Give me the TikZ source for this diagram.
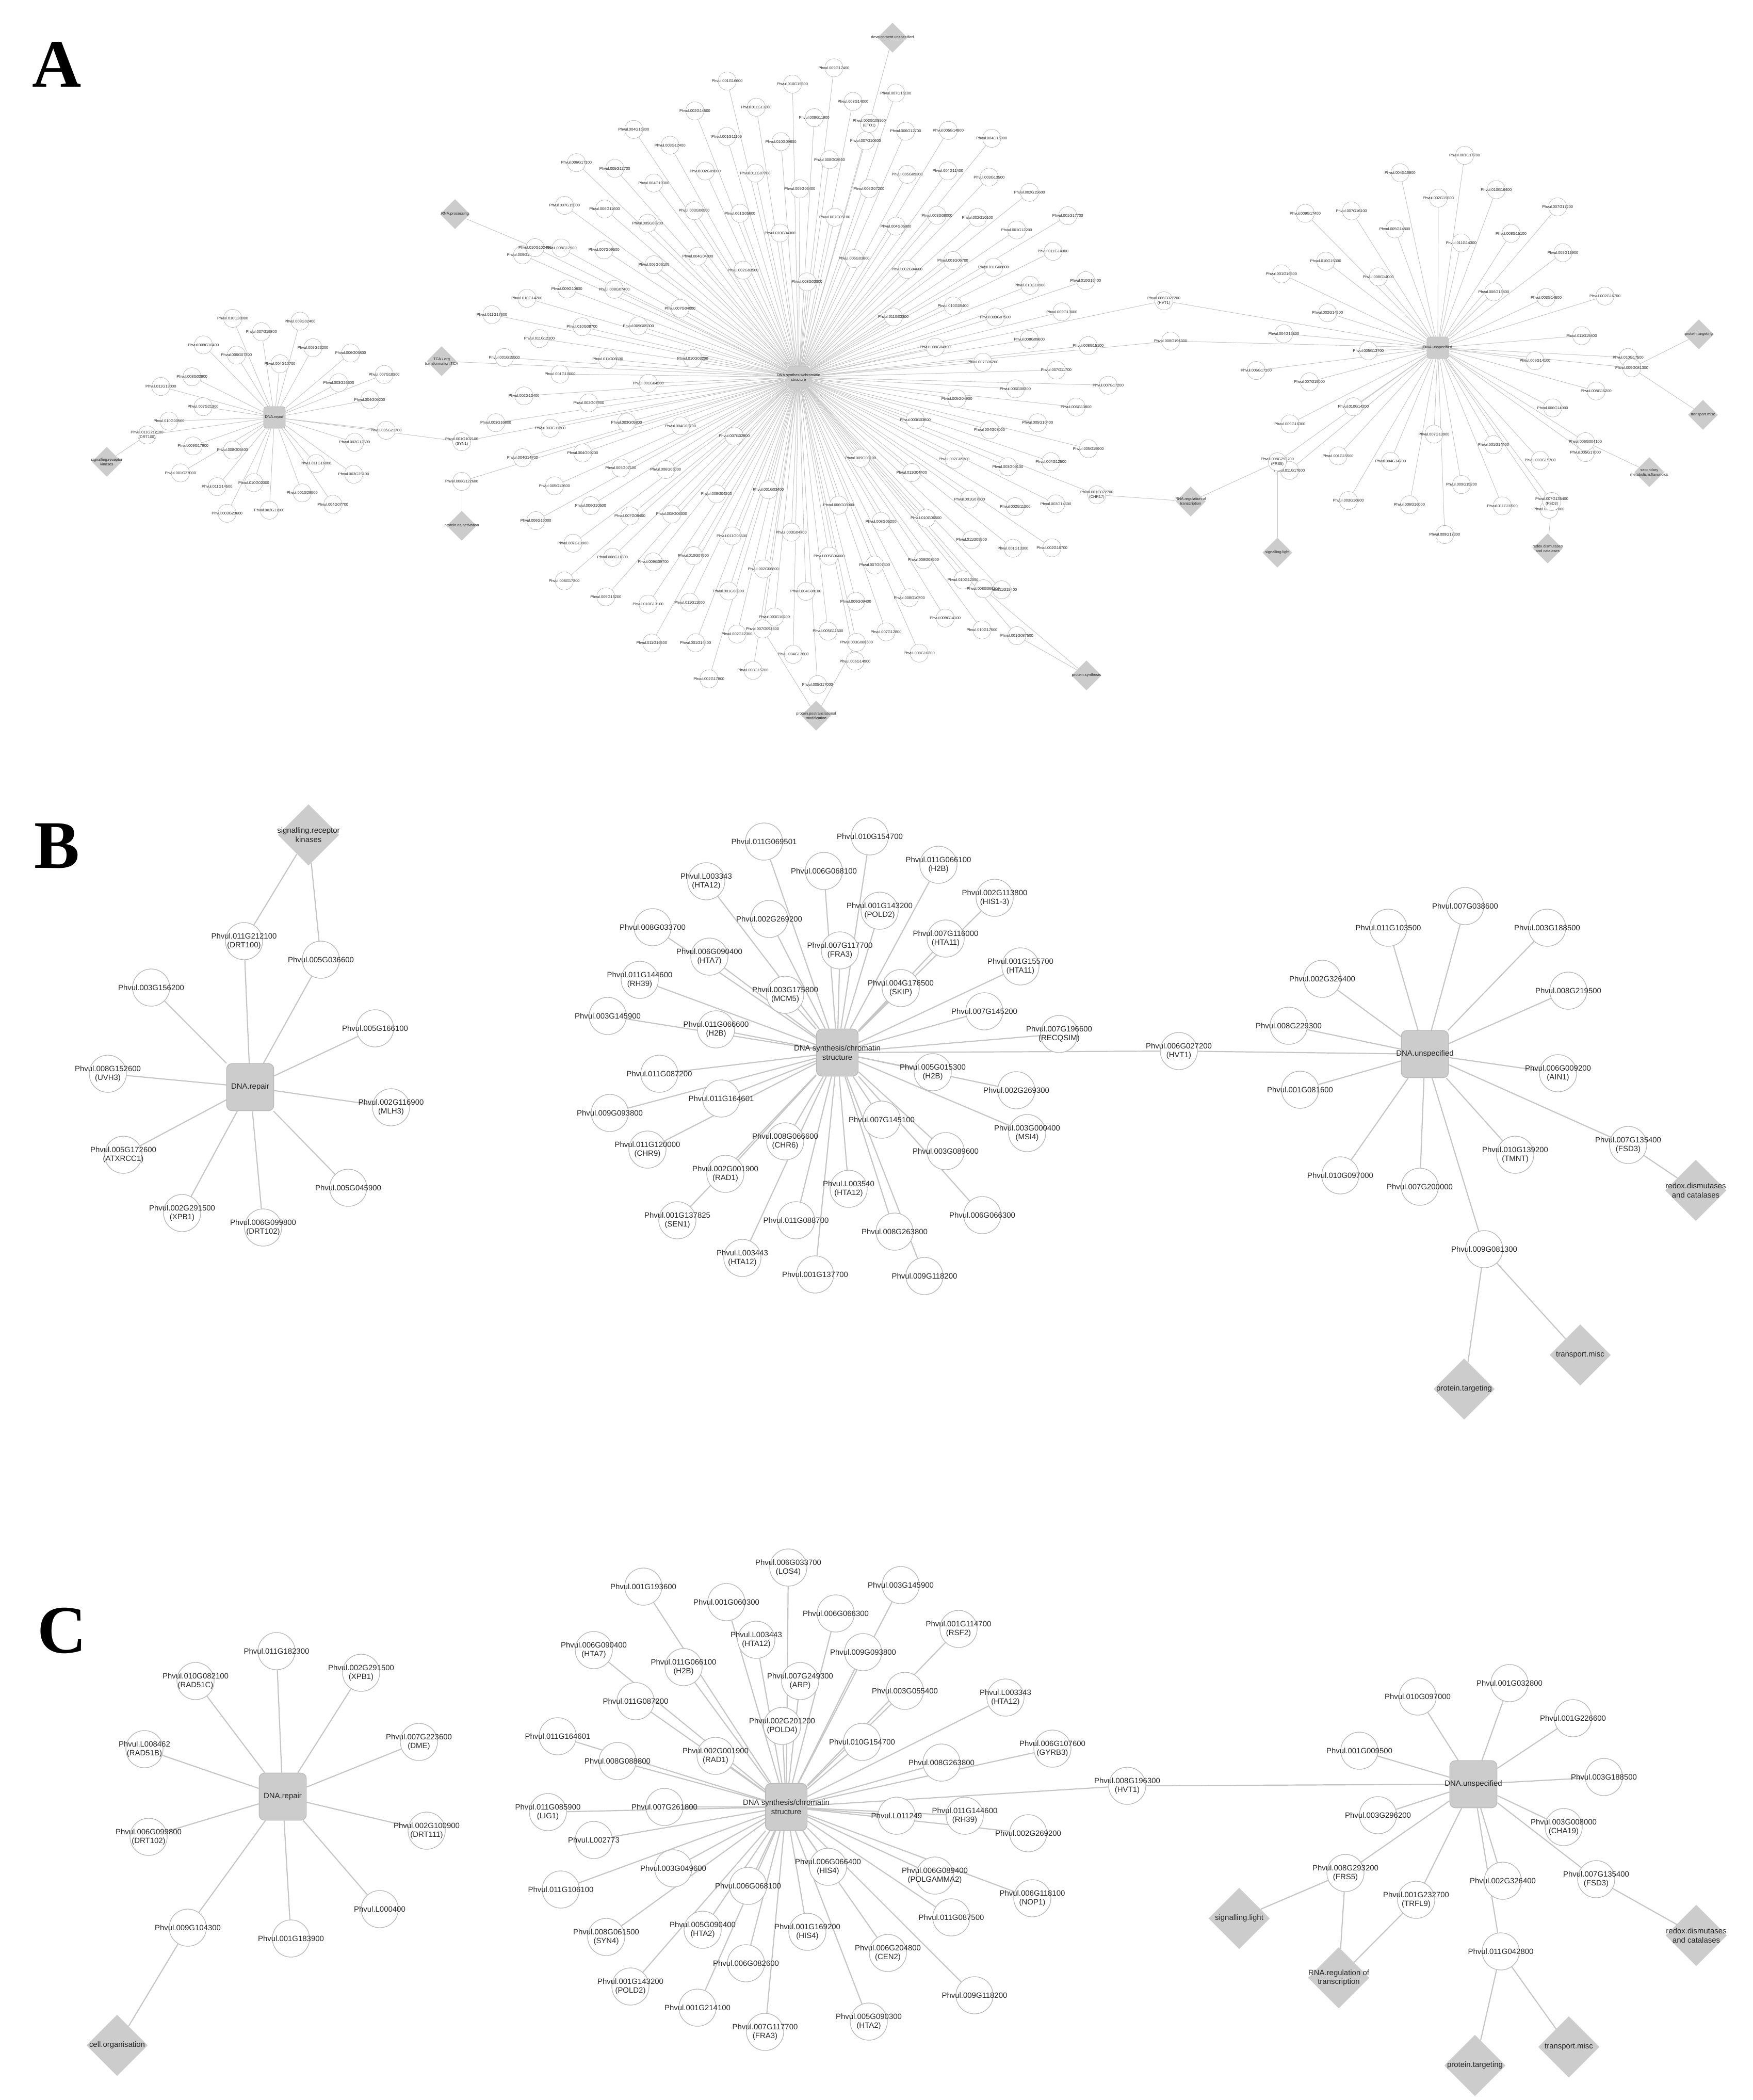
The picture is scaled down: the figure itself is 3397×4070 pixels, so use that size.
\documentclass[tikz,border=0pt]{standalone}
\usepackage{fontspec}
\setmainfont{Liberation Sans}
\newfontfamily\lettf{Liberation Serif}
\usetikzlibrary{shapes.geometric}
\pgfdeclarelayer{bg}
\pgfsetlayers{bg,main}
\tikzset{
 edge/.style={draw=gray!45,line width=2.5pt},
 aedge/.style={draw=gray!45,line width=1.1pt},
 leaf/.style={circle,draw=gray!55,fill=white,line width=1.5pt,minimum size=82pt,inner sep=0pt},
 aleaf/.style={leaf,minimum size=40pt,line width=0.8pt},
 hub/.style={rectangle,rounded corners=12pt,fill=gray!40,draw=gray!55,line width=1.5pt,minimum size=104pt},
 ahub/.style={hub,minimum size=48pt,rounded corners=6pt,line width=0.8pt},
 dia/.style={diamond,fill=gray!40,draw=none,minimum size=135pt,inner sep=0pt},
 adia/.style={dia,minimum size=66pt},
 txt/.style={align=center,text=black!85,font=\fontsize{17}{20}\selectfont,inner sep=0pt},
 atxt/.style={txt,font=\fontsize{8.5}{10}\selectfont},
 diatxt/.style={txt},
 adiatxt/.style={atxt},
 letter/.style={font=\lettf\bfseries\fontsize{150}{150}\selectfont,inner sep=0pt}
}
\gdef\edgelist{}
\newcommand\addedge[3]{\xdef\edgelist{\unexpanded\expandafter{\edgelist}\noexpand\draw[#1] (#2) -- (#3);}}
\newcommand\lf[5]{\node[leaf] (#1) at (#2,#3) {};\node[txt] (#1t) at (#1) {#4};\addedge{edge}{#5}{#1}}
\newcommand\alf[5]{\node[aleaf] (#1) at (#2,#3) {};\node[atxt] (#1t) at (#1) {#4};\addedge{aedge}{#5}{#1}}
\newcommand\lk[3][edge]{\addedge{#1}{#2}{#3}}
\newcommand\dn[5][dia]{\node[#1] (#2) at (#3,#4) {};\node[#1txt] (#2t) at (#2) {#5};}
\newcommand\genid[1]{\pgfmathtruncatemacro\ch{mod(#1*7,11)+1}\pgfmathtruncatemacro\nm{mod(#1*53,299)+1}Phvul.\ifnum\ch<10 00\else 0\fi\ch G\ifnum\nm<10 00\else\ifnum\nm<100 0\fi\fi\nm 00}
\newcommand\gang[1]{\pgfmathsetmacro\tt{#1*0.381966}\pgfmathsetmacro\ang{360*(\tt-floor(\tt))}}
\begin{document}
\begin{tikzpicture}[x=0.04cm,y=-0.04cm]
\useasboundingbox (0,0) rectangle (3397,4070);
\node[letter] (LA) at (110,125) {A};
\node[letter] (LB) at (110,1640) {B};
\node[letter] (LC) at (120,3160) {C};

% ================= A =================
\node[ahub] (arep) at (532,809) {};
\node[atxt] (arept) at (arep) {DNA.repair};
\node[ahub] (asyn) at (1548,731) {};
\node[atxt] (asynt) at (asyn) {DNA synthesis/chromatin\\structure};
\node[ahub] (auns) at (2787,674) {};
\node[atxt] (aunst) at (auns) {DNA.unspecified};
\foreach \i in {1,...,28}{
 \gang{\i}
 \pgfmathsetmacro\rad{80+160*sqrt(\i/28)}
 \pgfmathsetmacro\xx{532+\rad*cos(\ang)}
 \pgfmathsetmacro\yy{809+0.85*\rad*sin(\ang)}
 \alf{ar\i}{\xx}{\yy}{\genid{\i}}{arep}
}
\foreach \i in {1,...,150}{
 \gang{\i}
 \pgfmathsetmacro\rad{130+480*sqrt(\i/150)}
 \pgfmathsetmacro\xx{1548+\rad*cos(\ang)}
 \pgfmathsetmacro\yy{731+\rad*sin(\ang)}
 \alf{as\i}{\xx}{\yy}{\genid{\i+40}}{asyn}
}
\foreach \i in {1,...,42}{
 \gang{\i}
 \pgfmathsetmacro\rad{90+290*sqrt(\i/42)}
 \pgfmathsetmacro\xx{2787+\rad*cos(\ang+40)}
 \pgfmathsetmacro\yy{674+\rad*sin(\ang+40)}
 \alf{au\i}{\xx}{\yy}{\genid{\i+200}}{auns}
}
% bridges and diamonds in A
\alf{ab1}{895}{856}{Phvul.001G102100\\(SYN1)}{arep}\lk[aedge]{ab1}{asyn}
\alf{ab2}{2256}{583}{Phvul.006G027200\\(HVT1)}{asyn}\lk[aedge]{ab2}{auns}
\alf{ab3}{2269}{661}{Phvul.008G196300}{asyn}\lk[aedge]{ab3}{auns}
\dn[adia]{adev}{1730}{73}{development.unspecified}
\alf{ab4}{1685}{239}{Phvul.003G108500\\(ETO1)}{asyn}\lk[aedge]{ab4}{adev}
\dn[adia]{arnap}{882}{415}{RNA.processing}
\alf{ab5}{1037}{480}{Phvul.010G102400}{asyn}\lk[aedge]{ab5}{arnap}
\dn[adia]{atca}{856}{700}{TCA / org\\transformation.TCA}
\lk[aedge]{atca}{asyn}
\dn[adia]{asrk}{207}{895}{signalling.receptor\\kinases}
\alf{ab6}{285}{843}{Phvul.011G212100\\(DRT100)}{arep}\lk[aedge]{ab6}{asrk}
\dn[adia]{aaa}{895}{1019}{protein.aa activation}
\alf{ab7}{895}{933}{Phvul.008G122600}{asyn}\lk[aedge]{ab7}{aaa}
\dn[adia]{apost}{1582}{1387}{protein.postranslational\\modification}
\alf{ab8}{1478}{1219}{Phvul.007G098600}{asyn}\lk[aedge]{ab8}{apost}
\alf{ab9}{1660}{1245}{Phvul.003G080600}{asyn}\lk[aedge]{ab9}{apost}
\dn[adia]{apsyn}{2106}{1309}{protein.synthesis}
\alf{ab10}{1906}{1141}{Phvul.008G066300}{asyn}\lk[aedge]{ab10}{apsyn}
\alf{ab11}{1971}{1232}{Phvul.001G087500}{asyn}\lk[aedge]{ab11}{apsyn}
\dn[adia]{arnar}{2308}{972}{RNA.regulation of\\transcription}
\alf{ab12}{2126}{959}{Phvul.001G022700\\(CHR17)}{asyn}\lk[aedge]{ab12}{arnar}
\dn[adia]{aslt}{2476}{1071}{signalling.light}
\alf{ab13}{2476}{895}{Phvul.008G293200\\(FRS5)}{auns}\lk[aedge]{ab13}{aslt}\lk[aedge]{ab13}{arnar}
\dn[adia]{asec}{3197}{915}{secondary\\metabolism.flavonoids}
\alf{ab14}{3073}{856}{Phvul.006G004100}{auns}\lk[aedge]{ab14}{asec}
\dn[adia]{ared}{3000}{1063}{redox.dismutases\\and catalases}
\alf{ab15}{3008}{972}{Phvul.007G135400\\(FSD3)}{auns}\lk[aedge]{ab15}{ared}
\dn[adia]{aptg}{3293}{648}{protein.targeting}
\dn[adia]{atrm}{3301}{804}{transport.misc}
\alf{ab16}{3163}{713}{Phvul.009G081300}{auns}\lk[aedge]{ab16}{aptg}\lk[aedge]{ab16}{atrm}

% ================= B =================
\node[hub] (brep) at (485,2107) {};
\node[txt] (brept) at (brep) {DNA.repair};
\dn{bsrk}{598}{1618}{signalling.receptor\\kinases}
\lf{b1}{473}{1824}{Phvul.011G212100\\(DRT100)}{brep}\lk{b1}{bsrk}
\lf{b2}{622}{1860}{Phvul.005G036600}{brep}\lk{b2}{bsrk}
\lf{b3}{293}{1914}{Phvul.003G156200}{brep}
\lf{b4}{727}{1993}{Phvul.005G166100}{brep}
\lf{b5}{209}{2081}{Phvul.008G152600\\(UVH3)}{brep}
\lf{b6}{758}{2146}{Phvul.002G116900\\(MLH3)}{brep}
\lf{b7}{239}{2238}{Phvul.005G172600\\(ATXRCC1)}{brep}
\lf{b8}{675}{2302}{Phvul.005G045900}{brep}
\lf{b9}{353}{2351}{Phvul.002G291500\\(XPB1)}{brep}
\lf{b10}{510}{2379}{Phvul.006G099800\\(DRT102)}{brep}

\node[hub,minimum width=92pt,minimum height=104pt] (bsyn) at (1623,2040) {};
\node[txt] (bsynt) at (bsyn) {DNA synthesis/chromatin\\structure};
\node[hub] (buns) at (2762,2043) {};
\node[txt] (bunst) at (buns) {DNA.unspecified};
\lf{s1}{1481}{1631}{Phvul.011G069501}{bsyn}
\lf{s2}{1686}{1621}{Phvul.010G154700}{bsyn}
\lf{s3}{1819}{1676}{Phvul.011G066100\\(H2B)}{bsyn}
\lf{s4}{1369}{1708}{Phvul.L003343\\(HTA12)}{bsyn}
\lf{s5}{1597}{1688}{Phvul.006G068100}{bsyn}
\lf{s6}{1928}{1740}{Phvul.002G113800\\(HIS1-3)}{bsyn}
\lf{s7}{1705}{1765}{Phvul.001G143200\\(POLD2)}{bsyn}
\lf{s8}{1491}{1781}{Phvul.002G269200}{bsyn}
\lf{s9}{1265}{1797}{Phvul.008G033700}{bsyn}
\lf{s10}{1628}{1842}{Phvul.007G117700\\(FRA3)}{bsyn}
\lf{s11}{1833}{1819}{Phvul.007G116000\\(HTA11)}{bsyn}
\lf{s12}{1375}{1854}{Phvul.006G090400\\(HTA7)}{bsyn}
\lf{s13}{1978}{1873}{Phvul.001G155700\\(HTA11)}{bsyn}
\lf{s14}{1240}{1899}{Phvul.011G144600\\(RH39)}{bsyn}
\lf{s15}{1522}{1928}{Phvul.003G175800\\(MCM5)}{bsyn}
\lf{s16}{1746}{1915}{Phvul.004G176500\\(SKIP)}{bsyn}
\lf{s17}{1178}{1969}{Phvul.003G145900}{bsyn}
\lf{s18}{1908}{1960}{Phvul.007G145200}{bsyn}
\lf{s19}{2053}{2004}{Phvul.007G196600\\(RECQSIM)}{bsyn}
\lf{s20}{1388}{1995}{Phvul.011G066600\\(H2B)}{bsyn}
\lf{s21}{1278}{2081}{Phvul.011G087200}{bsyn}
\lf{s22}{1808}{2078}{Phvul.005G015300\\(H2B)}{bsyn}
\lf{s23}{1970}{2113}{Phvul.002G269300}{bsyn}
\lf{s24}{1398}{2129}{Phvul.011G164601}{bsyn}
\lf{s25}{1182}{2157}{Phvul.009G093800}{bsyn}
\lf{s26}{1709}{2170}{Phvul.007G145100}{bsyn}
\lf{s27}{1991}{2196}{Phvul.003G000400\\(MSI4)}{bsyn}
\lf{s28}{1255}{2228}{Phvul.011G120000\\(CHR9)}{bsyn}
\lf{s29}{1522}{2212}{Phvul.008G066600\\(CHR6)}{bsyn}
\lf{s30}{1833}{2231}{Phvul.003G089600}{bsyn}
\lf{s31}{1406}{2275}{Phvul.002G001900\\(RAD1)}{bsyn}
\lf{s32}{1645}{2304}{Phvul.L003540\\(HTA12)}{bsyn}
\lf{s33}{1313}{2365}{Phvul.001G137825\\(SEN1)}{bsyn}
\lf{s34}{1543}{2365}{Phvul.011G088700}{bsyn}
\lf{s35}{1904}{2355}{Phvul.006G066300}{bsyn}
\lf{s36}{1734}{2387}{Phvul.008G263800}{bsyn}
\lf{s37}{1439}{2438}{Phvul.L003443\\(HTA12)}{bsyn}
\lf{s38}{1580}{2470}{Phvul.001G137700}{bsyn}
\lf{s39}{1792}{2473}{Phvul.009G118200}{bsyn}
\lf{bhvt}{2285}{2037}{Phvul.006G027200\\(HVT1)}{bsyn}\lk{bhvt}{buns}
\lf{u1}{2691}{1798}{Phvul.011G103500}{buns}
\lf{u2}{2840}{1756}{Phvul.007G038600}{buns}
\lf{u3}{2999}{1798}{Phvul.003G188500}{buns}
\lf{u4}{2563}{1897}{Phvul.002G326400}{buns}
\lf{u5}{3040}{1920}{Phvul.008G219500}{buns}
\lf{u6}{2498}{1988}{Phvul.008G229300}{buns}
\lf{u7}{3020}{2080}{Phvul.006G009200\\(AIN1)}{buns}
\lf{u8}{2520}{2112}{Phvul.001G081600}{buns}
\lf{u9}{3156}{2219}{Phvul.007G135400\\(FSD3)}{buns}
\lf{u10}{2937}{2238}{Phvul.010G139200\\(TMNT)}{buns}
\lf{u11}{2598}{2278}{Phvul.010G097000}{buns}
\lf{u12}{2752}{2300}{Phvul.007G200000}{buns}
\lf{u13}{2877}{2421}{Phvul.009G081300}{buns}
\dn{bred}{3287}{2307}{redox.dismutases\\and catalases}\lk{u9}{bred}
\dn{btrm}{3063}{2626}{transport.misc}\lk{u13}{btrm}
\dn{bptg}{2838}{2692}{protein.targeting}\lk{u13}{bptg}

% ================= C =================
\node[hub] (crep) at (548,3482) {};
\node[txt] (crept) at (crep) {DNA.repair};
\lf{c1}{536}{3200}{Phvul.011G182300}{crep}
\lf{c2}{379}{3258}{Phvul.010G082100\\(RAD51C)}{crep}
\lf{c3}{700}{3242}{Phvul.002G291500\\(XPB1)}{crep}
\lf{c4}{280}{3390}{Phvul.L008462\\(RAD51B)}{crep}
\lf{c5}{812}{3376}{Phvul.007G223600\\(DME)}{crep}
\lf{c6}{288}{3560}{Phvul.006G099800\\(DRT102)}{crep}
\lf{c7}{827}{3548}{Phvul.002G100900\\(DRT111)}{crep}
\lf{c8}{736}{3700}{Phvul.L000400}{crep}
\lf{c9}{364}{3736}{Phvul.009G104300}{crep}
\lf{c10}{564}{3757}{Phvul.001G183900}{crep}
\dn{ccell}{227}{3964}{cell.organisation}\lk{c9}{ccell}

\node[hub,minimum width=92pt,minimum height=104pt] (csyn) at (1524,3502) {};
\node[txt] (csynt) at (csyn) {DNA synthesis/chromatin\\structure};
\node[hub] (cuns) at (2856,3458) {};
\node[txt] (cunst) at (cuns) {DNA.unspecified};
\lf{t1}{1528}{3038}{Phvul.006G033700\\(LOS4)}{csyn}
\lf{t2}{1247}{3075}{Phvul.001G193600}{csyn}
\lf{t3}{1746}{3072}{Phvul.003G145900}{csyn}
\lf{t4}{1408}{3105}{Phvul.001G060300}{csyn}
\lf{t5}{1620}{3127}{Phvul.006G066300}{csyn}
\lf{t6}{1858}{3157}{Phvul.001G114700\\(RSF2)}{csyn}
\lf{t7}{1151}{3198}{Phvul.006G090400\\(HTA7)}{csyn}
\lf{t8}{1466}{3178}{Phvul.L003443\\(HTA12)}{csyn}
\lf{t9}{1673}{3202}{Phvul.009G093800}{csyn}
\lf{t10}{1325}{3231}{Phvul.011G066100\\(H2B)}{csyn}
\lf{t11}{1551}{3258}{Phvul.007G249300\\(ARP)}{csyn}
\lf{t12}{1754}{3277}{Phvul.003G055400}{csyn}
\lf{t13}{1949}{3290}{Phvul.L003343\\(HTA12)}{csyn}
\lf{t14}{1232}{3297}{Phvul.011G087200}{csyn}
\lf{t15}{1516}{3345}{Phvul.002G201200\\(POLD4)}{csyn}
\lf{t16}{1671}{3376}{Phvul.010G154700}{csyn}
\lf{t17}{1081}{3365}{Phvul.011G164601}{csyn}
\lf{t18}{2040}{3389}{Phvul.006G107600\\(GYRB3)}{csyn}
\lf{t19}{1197}{3413}{Phvul.008G088800}{csyn}
\lf{t20}{1387}{3403}{Phvul.002G001900\\(RAD1)}{csyn}
\lf{t21}{1825}{3416}{Phvul.008G263800}{csyn}
\lf{t22}{1062}{3512}{Phvul.011G085900\\(LIG1)}{csyn}
\lf{t23}{1288}{3502}{Phvul.007G261800}{csyn}
\lf{t24}{1738}{3519}{Phvul.L011249}{csyn}
\lf{t25}{1870}{3519}{Phvul.011G144600\\(RH39)}{csyn}
\lf{t26}{1993}{3553}{Phvul.002G269200}{csyn}
\lf{t27}{1151}{3566}{Phvul.L002773}{csyn}
\lf{t28}{1305}{3621}{Phvul.003G049600}{csyn}
\lf{t29}{1605}{3618}{Phvul.006G066400\\(HIS4)}{csyn}
\lf{t30}{1812}{3635}{Phvul.006G089400\\(POLGAMMA2)}{csyn}
\lf{t31}{1087}{3662}{Phvul.011G106100}{csyn}
\lf{t32}{1450}{3655}{Phvul.006G068100}{csyn}
\lf{t33}{2001}{3679}{Phvul.006G118100\\(NOP1)}{csyn}
\lf{t34}{1844}{3716}{Phvul.011G087500}{csyn}
\lf{t35}{1175}{3754}{Phvul.008G061500\\(SYN4)}{csyn}
\lf{t36}{1362}{3740}{Phvul.005G090400\\(HTA2)}{csyn}
\lf{t37}{1565}{3744}{Phvul.001G169200\\(HIS4)}{csyn}
\lf{t38}{1721}{3785}{Phvul.006G204800\\(CEN2)}{csyn}
\lf{t39}{1446}{3805}{Phvul.006G082600}{csyn}
\lf{t40}{1222}{3850}{Phvul.001G143200\\(POLD2)}{csyn}
\lf{t41}{1889}{3867}{Phvul.009G118200}{csyn}
\lf{t42}{1352}{3891}{Phvul.001G214100}{csyn}
\lf{t43}{1483}{3938}{Phvul.007G117700\\(FRA3)}{csyn}
\lf{t44}{1684}{3918}{Phvul.005G090300\\(HTA2)}{csyn}
\lf{chvt}{2185}{3461}{Phvul.008G196300\\(HVT1)}{csyn}\lk{chvt}{cuns}
\lf{v1}{2748}{3288}{Phvul.010G097000}{cuns}
\lf{v2}{2926}{3262}{Phvul.001G032800}{cuns}
\lf{v3}{3049}{3330}{Phvul.001G226600}{cuns}
\lf{v4}{2635}{3393}{Phvul.001G009500}{cuns}
\lf{v5}{3109}{3444}{Phvul.003G188500}{cuns}
\lf{v6}{2671}{3518}{Phvul.003G296200}{cuns}
\lf{v7}{3031}{3541}{Phvul.003G008000\\(CHA19)}{cuns}
\lf{v8}{2608}{3630}{Phvul.008G293200\\(FRS5)}{cuns}
\lf{v9}{3094}{3642}{Phvul.007G135400\\(FSD3)}{cuns}
\lf{v10}{2913}{3645}{Phvul.002G326400}{cuns}
\lf{v11}{2745}{3682}{Phvul.001G232700\\(TRFL9)}{cuns}
\lf{v12}{2909}{3782}{Phvul.011G042800}{cuns}
\dn{cslt}{2402}{3718}{signalling.light}\lk{v8}{cslt}
\dn{crna}{2595}{3833}{RNA.regulation of\\transcription}\lk{v8}{crna}\lk{v11}{crna}
\dn{cred}{3288}{3751}{redox.dismutases\\and catalases}\lk{v9}{cred}
\dn{ctrm}{3041}{3967}{transport.misc}\lk{v12}{ctrm}
\dn{cptg}{2859}{4003}{protein.targeting}\lk{v12}{cptg}
\begin{pgfonlayer}{bg}\edgelist\end{pgfonlayer}
\end{tikzpicture}
\end{document}
